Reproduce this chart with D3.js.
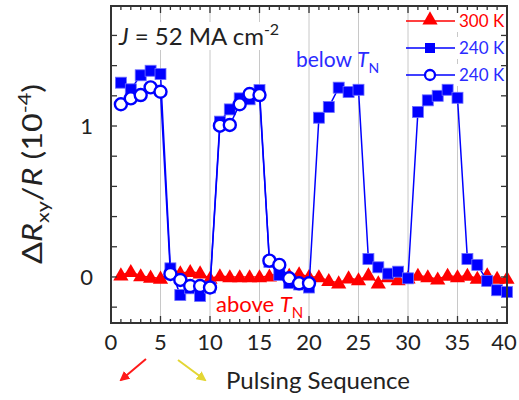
<!DOCTYPE html>
<html>
<head>
<meta charset="utf-8">
<script src="https://cdn.jsdelivr.net/npm/d3@7"></script>
<style>
  body { margin: 0; background: #fff; }
  svg { display: block; }
  text { font-family: Lato, "Open Sans", sans-serif; }
</style>
</head>
<body>
<svg id="chart" width="519" height="400"></svg>
<script>
// Pulse index (1..40)
const pulses = d3.range(1, 41);

// 300 K, filled triangles (10^-4)
const r300 = [0.013, 0.035, 0.007, -0.002, -0.009, 0.02, 0.026, 0.035, 0.026, -0.01,
              0.007, 0.0, 0.0, 0.0, 0.0, 0.005, 0.026, 0.01, 0.02, 0.002,
              0.0, -0.025, -0.04, -0.007, -0.02, 0.013, -0.04, 0.0, -0.02, -0.007,
              0.01, 0.0, -0.015, 0.01, 0.0, 0.01, -0.01, 0.013, -0.01, -0.01];

// 240 K, filled squares
const r240a = [1.287, 1.243, 1.336, 1.366, 1.344, 0.057, -0.12, -0.075, -0.126, -0.07,
               1.029, 1.11, 1.183, 1.177, 1.238, 0.1, 0.013, -0.04, -0.05, -0.07,
               1.055, 1.126, 1.254, 1.225, 1.24, 0.119, 0.064, 0.022, 0.035, -0.009,
               1.093, 1.17, 1.2, 1.24, 1.187, 0.119, 0.08, -0.026, -0.088, -0.1];

// 240 K, open circles (pulses 1..20)
const r240b = [1.144, 1.183, 1.205, 1.256, 1.227, 0.02, -0.02, -0.06, -0.06, -0.07,
               1.002, 1.007, 1.144, 1.212, 1.205, 0.108, 0.08, -0.009, -0.042, -0.042];

const xTickLabels = [0, 5, 10, 15, 20, 25, 30, 35, 40];
const yTickLabels = [0, 1];

const RED = "#ff0000", BLUE = "#0000ff", BLUE_TXT = "#2b2bff";

const svg = d3.select("#chart");
const L = 111, R = 507, T = 6, B = 323;
const x = d3.scaleLinear().domain([0, 40]).range([L, R]);
const y = d3.scaleLinear().domain([-0.305, 1.795]).range([B, T]);

// vertical guide lines
svg.append("g").selectAll("line").data([5, 10, 15, 20, 25, 30, 35]).join("line")
  .attr("x1", d => x(d)).attr("x2", d => x(d)).attr("y1", T).attr("y2", B)
  .attr("stroke", "#c8c8c8").attr("stroke-width", 1);

// text with italic / sub / superscript pieces
function mathText(g, parts, attrs) {
  const t = g.append("text");
  Object.entries(attrs).forEach(([k, v]) => t.attr(k, v));
  parts.forEach(p => {
    const s = t.append("tspan").text(p.t);
    if (p.i) s.attr("font-style", "italic");
    if (p.dy) s.attr("dy", p.dy);
    if (p.fs) s.attr("font-size", p.fs);
  });
  return t;
}

const ann = svg.append("g");
ann.append("rect").attr("x", 116).attr("y", 22).attr("width", 166).attr("height", 28).attr("fill", "#fff");
mathText(ann, [{t: "J", i: true}, {t: " = 52 MA cm"}, {t: "-2", dy: -10, fs: 16}],
  {x: 119, y: 45, "font-size": 24, fill: "#222"});

mathText(ann, [{t: "below "}, {t: "T", i: true}, {t: "N", dy: 6, fs: 14}],
  {x: 296, y: 67, "font-size": 21, fill: BLUE_TXT});
mathText(ann, [{t: "above "}, {t: "T", i: true}, {t: "N", dy: 6, fs: 15}],
  {x: 216, y: 312, "font-size": 22, fill: RED});

// series
const line = d3.line().x(d => x(d[0])).y(d => y(d[1]));
const s300 = pulses.map((p, i) => [p, r300[i]]);
const sA = pulses.map((p, i) => [p, r240a[i]]);
const sB = r240b.map((v, i) => [pulses[i], v]);

const tri = d3.symbol().type(d3.symbolTriangle).size(100);

svg.append("path").attr("d", line(s300)).attr("fill", "none").attr("stroke", RED).attr("stroke-width", 1.3);
svg.append("g").selectAll("path").data(s300).join("path")
  .attr("d", tri).attr("transform", d => `translate(${x(d[0])},${y(d[1]) + 1})`).attr("fill", RED);

svg.append("path").attr("d", line(sA)).attr("fill", "none").attr("stroke", BLUE).attr("stroke-width", 1.5);
svg.append("g").selectAll("rect").data(sA).join("rect")
  .attr("x", d => x(d[0]) - 5.5).attr("y", d => y(d[1]) - 5.5)
  .attr("width", 11).attr("height", 11)
  .attr("fill", BLUE).attr("stroke", "#6f6fff").attr("stroke-width", 0.8);

svg.append("path").attr("d", line(sB)).attr("fill", "none").attr("stroke", BLUE).attr("stroke-width", 1.5);
svg.append("g").selectAll("circle").data(sB).join("circle")
  .attr("cx", d => x(d[0])).attr("cy", d => y(d[1])).attr("r", 6)
  .attr("fill", "#fff").attr("stroke", BLUE).attr("stroke-width", 2.4);

// legend
const leg = svg.append("g");
const legItems = [
  {label: "300 K", color: RED, kind: "tri", yy: 21},
  {label: "240 K", color: BLUE_TXT, kind: "sq", yy: 48},
  {label: "240 K", color: BLUE_TXT, kind: "circ", yy: 75}
];
legItems.forEach(it => {
  const lc = it.kind === "tri" ? RED : BLUE;
  leg.append("rect").attr("x", 456).attr("y", it.yy - 11).attr("width", 49).attr("height", 22).attr("fill", "#fff");
  leg.append("line").attr("x1", 406).attr("x2", 455).attr("y1", it.yy).attr("y2", it.yy)
    .attr("stroke", lc).attr("stroke-width", 1.3);
  if (it.kind === "tri") {
    leg.append("path").attr("d", tri).attr("transform", `translate(430,${it.yy - 1})`).attr("fill", RED);
  } else if (it.kind === "sq") {
    leg.append("rect").attr("x", 425).attr("y", it.yy - 5).attr("width", 10).attr("height", 10).attr("fill", BLUE);
  } else {
    leg.append("circle").attr("cx", 430).attr("cy", it.yy).attr("r", 5).attr("fill", "#fff")
      .attr("stroke", BLUE).attr("stroke-width", 2.3);
  }
  leg.append("text").attr("x", 459).attr("y", it.yy + 6).attr("font-size", 17)
    .attr("fill", it.color).text(it.label);
});

// axes (ticks pointing inward on all four sides)
const AX = "#333";
const xMinor = d3.range(0, 41);
const yMinor = d3.range(-0.2, 1.61, 0.2);
const axes = svg.append("g").attr("stroke", AX).attr("stroke-width", 1.3);
xMinor.forEach(v => {
  const len = v % 5 === 0 ? 7 : 4;
  axes.append("line").attr("x1", x(v)).attr("x2", x(v)).attr("y1", B).attr("y2", B - len);
  axes.append("line").attr("x1", x(v)).attr("x2", x(v)).attr("y1", T).attr("y2", T + len);
});
yMinor.forEach(v => {
  axes.append("line").attr("x1", L).attr("x2", L + 6).attr("y1", y(v)).attr("y2", y(v));
  axes.append("line").attr("x1", R).attr("x2", R - 6).attr("y1", y(v)).attr("y2", y(v));
});
svg.append("rect").attr("x", L).attr("y", T).attr("width", R - L).attr("height", B - T)
  .attr("fill", "none").attr("stroke", AX).attr("stroke-width", 2);

svg.append("g").selectAll("text").data(xTickLabels).join("text")
  .attr("x", d => Math.min(x(d), 504)).attr("y", 350).attr("text-anchor", "middle")
  .attr("font-size", 22).attr("fill", "#222").text(d => d);
svg.append("g").selectAll("text").data(yTickLabels).join("text")
  .attr("x", 93).attr("y", d => y(d) + 8).attr("text-anchor", "end")
  .attr("font-size", 22).attr("fill", "#222").text(d => d);

// axis titles
const yl = svg.append("text").attr("transform", "translate(42,174) rotate(-90)")
  .attr("text-anchor", "middle").attr("font-size", 27).attr("fill", "#222")
  .attr("textLength", 180).attr("lengthAdjust", "spacingAndGlyphs");
yl.append("tspan").text("\u0394");
yl.append("tspan").attr("font-style", "italic").text("R");
yl.append("tspan").attr("font-size", 18).attr("dy", 7).text("xy");
yl.append("tspan").attr("dy", -7).text("/");
yl.append("tspan").attr("font-style", "italic").text("R");
yl.append("tspan").text(" (10");
yl.append("tspan").attr("font-size", 18).attr("dy", -11).text("-4");
yl.append("tspan").attr("dy", 11).text(")");

svg.append("text").attr("x", 318).attr("y", 389).attr("text-anchor", "middle")
  .attr("font-size", 24).attr("fill", "#222").text("Pulsing Sequence");

// direction arrows
const defs = svg.append("defs");
[["ar", "#ff1a1a"], ["ay", "#e3d634"]].forEach(([id, c]) => {
  defs.append("marker").attr("id", id).attr("viewBox", "0 0 10 10").attr("refX", 8).attr("refY", 5)
    .attr("markerWidth", 5).attr("markerHeight", 5).attr("orient", "auto")
    .append("path").attr("d", "M0,0 L10,5 L0,10 Z").attr("fill", c);
});
svg.append("line").attr("x1", 146).attr("y1", 359).attr("x2", 121).attr("y2", 380)
  .attr("stroke", "#ff1a1a").attr("stroke-width", 2).attr("marker-end", "url(#ar)");
svg.append("line").attr("x1", 178).attr("y1", 360).attr("x2", 205).attr("y2", 380)
  .attr("stroke", "#e3d634").attr("stroke-width", 2).attr("marker-end", "url(#ay)");
</script>
</body>
</html>
